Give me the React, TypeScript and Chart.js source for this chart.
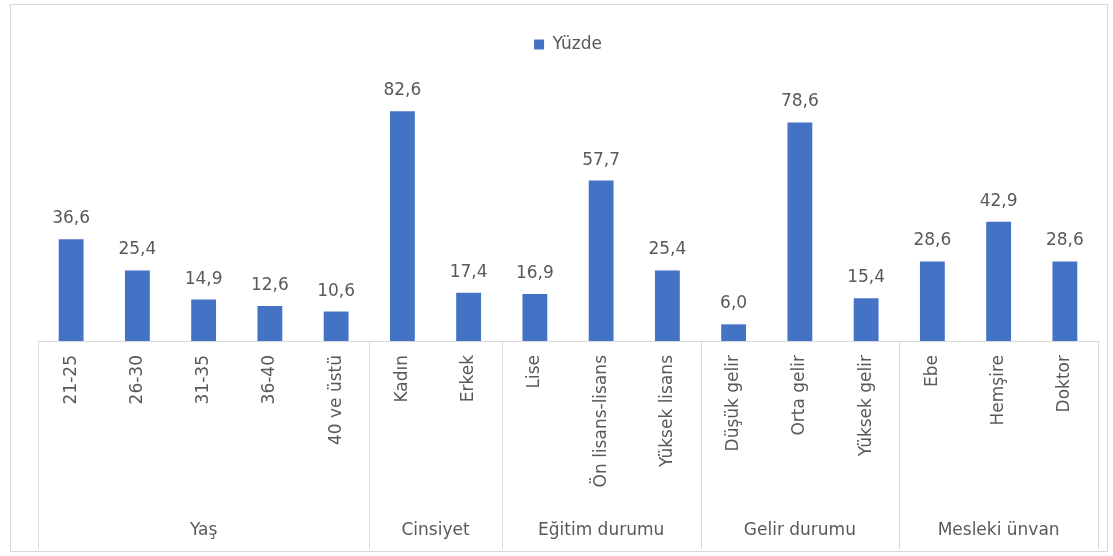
import React, { useEffect, useRef } from "react";
import { Chart, registerables } from "chart.js";

Chart.register(...registerables);

const categories = [
  "21-25", "26-30", "31-35", "36-40", "40 ve üstü",
  "Kadın", "Erkek",
  "Lise", "Ön lisans-lisans", "Yüksek lisans",
  "Düşük gelir", "Orta gelir", "Yüksek gelir",
  "Ebe", "Hemşire", "Doktor",
];
const values = [36.6, 25.4, 14.9, 12.6, 10.6, 82.6, 17.4, 16.9, 57.7, 25.4, 6.0, 78.6, 15.4, 28.6, 42.9, 28.6];
const groupNames = ["Yaş", "Cinsiyet", "Eğitim durumu", "Gelir durumu", "Mesleki ünvan"];
const groupSizes = [5, 2, 3, 3, 3];
const seriesName = "Yüzde";

const FONT = "'DejaVu Sans', sans-serif";
const TEXT = "#595959";
const LINE = "#d9d9d9";
const BLUE = "#4472C4";

const decorPlugin = {
  id: "decor",
  beforeDraw(chart: any) {
    const ctx = chart.ctx;
    ctx.save();
    ctx.fillStyle = "#ffffff";
    ctx.fillRect(0, 0, chart.width, chart.height);
    ctx.strokeStyle = LINE;
    ctx.lineWidth = 1;
    ctx.strokeRect(10.5, 4.5, 1097, 547);
    ctx.restore();
  },
  afterDraw(chart: any) {
    const ctx = chart.ctx;
    const x = chart.scales.x;
    const area = chart.chartArea;
    const step = x.getPixelForValue(1) - x.getPixelForValue(0);
    const yTop = Math.round(area.bottom) + 0.5;
    const yBot = 549;
    ctx.save();
    ctx.strokeStyle = LINE;
    ctx.lineWidth = 1;
    // axis line
    ctx.beginPath();
    ctx.moveTo(x.getPixelForValue(0) - step / 2, yTop);
    ctx.lineTo(x.getPixelForValue(categories.length - 1) + step / 2, yTop);
    ctx.stroke();
    // group separators and labels
    let start = 0;
    const bounds: number[] = [x.getPixelForValue(0) - step / 2];
    groupSizes.forEach((n) => {
      const end = start + n - 1;
      bounds.push(x.getPixelForValue(end) + step / 2);
      start += n;
    });
    bounds.forEach((bx) => {
      const px = Math.round(bx) + 0.5;
      ctx.beginPath();
      ctx.moveTo(px, yTop);
      ctx.lineTo(px, yBot);
      ctx.stroke();
    });
    ctx.fillStyle = TEXT;
    ctx.font = `17px ${FONT}`;
    ctx.textAlign = "center";
    ctx.textBaseline = "middle";
    groupNames.forEach((g, i) => {
      ctx.fillText(g, (bounds[i] + bounds[i + 1]) / 2, 531);
    });
    // value labels
    const meta = chart.getDatasetMeta(0);
    ctx.textBaseline = "alphabetic";
    meta.data.forEach((bar: any, i: number) => {
      ctx.fillText(values[i].toFixed(1).replace(".", ","), bar.x, bar.y - 16);
    });
    ctx.restore();
  },
};

export default function App() {
  const ref = useRef<HTMLCanvasElement>(null);
  useEffect(() => {
    if (!ref.current) return;
    const chart = new Chart(ref.current, {
      type: "bar",
      data: {
        labels: categories,
        datasets: [
          {
            label: seriesName,
            data: values,
            backgroundColor: BLUE,
            borderWidth: 0,
            barPercentage: 0.375,
            categoryPercentage: 1,
          },
        ],
      },
      options: {
        responsive: false,
        animation: false,
        layout: { padding: { top: 23, left: 38, right: 15, bottom: 0 } },
        plugins: {
          tooltip: { enabled: false },
          legend: {
            display: true,
            position: "top",
            labels: {
              boxWidth: 10,
              boxHeight: 10,
              padding: 13,
              color: TEXT,
              font: { family: FONT, size: 17 },
            },
          },
        },
        scales: {
          x: {
            grid: { display: false, drawTicks: false },
            border: { display: false },
            ticks: {
              minRotation: 90,
              maxRotation: 90,
              autoSkip: false,
              padding: 14,
              color: TEXT,
              font: { family: FONT, size: 17 },
            },
            afterFit: (s: any) => {
              s.height = 215;
            },
          },
          y: {
            display: false,
            min: 0,
            max: 100,
          },
        },
      },
      plugins: [decorPlugin],
    });
    return () => chart.destroy();
  }, []);
  return (
    <div style={{ position: "fixed", left: 0, top: 0, width: 1113, height: 556, background: "#fff" }}>
      <canvas ref={ref} width={1113} height={556} style={{ display: "block" }} />
    </div>
  );
}
